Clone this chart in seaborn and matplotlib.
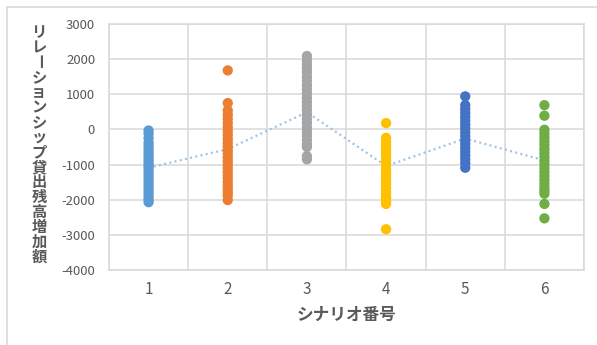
import numpy as np
import pandas as pd
import matplotlib
matplotlib.use("Agg")
import matplotlib.pyplot as plt
from matplotlib.patches import Rectangle
import seaborn as sns

# ---- data -------------------------------------------------------------
scenarios = ["1", "2", "3", "4", "5", "6"]

s1 = [-30, -120, -250, -380, -470, -560, -650, -740, -820, -900, -980, -1050,
      -1120, -1200, -1290, -1380, -1470, -1560, -1650, -1740, -1830, -1920,
      -2000, -2070]
s2 = [1680, 750, 540, 420, 300, 180, 60, -50, -160, -270, -380, -490, -600,
      -700, -800, -900, -1000, -1100, -1200, -1300, -1400, -1500, -1600,
      -1700, -1790, -1880, -2010]
s3 = [2090, 1960, 1850, 1740, 1620, 1500, 1380, 1260, 1140, 1020, 900, 780,
      660, 540, 420, 300, 180, 60, -60, -180, -300, -420, -500, -760, -850]
s4 = [180, -240, -350, -460, -570, -680, -790, -900, -1010, -1120, -1230,
      -1340, -1450, -1560, -1670, -1780, -1860, -1950, -2040, -2120, -2840]
s5 = [940, 690, 580, 470, 360, 250, 140, 30, -80, -190, -300, -410, -520,
      -630, -740, -850, -960, -1090]
s6 = [690, 390, -10, -120, -230, -340, -450, -560, -670, -780, -890, -1000,
      -1110, -1220, -1330, -1440, -1550, -1660, -1740, -1830, -2120, -2530]

# average per scenario (dotted line)
averages = [-1090, -560, 490, -1040, -260, -880]

y_ticks = [-4000, -3000, -2000, -1000, 0, 1000, 2000, 3000]

x_title = "シナリオ番号"
y_title = "リレーションシップ貸出残高増加額"

colors = ["#5B9BD5", "#ED7D31", "#A5A5A5", "#FFC000", "#4472C4", "#70AD47"]

# ---- long-form table --------------------------------------------------
series = [s1, s2, s3, s4, s5, s6]
df = pd.DataFrame({
    "scenario": np.concatenate([[sc] * len(v) for sc, v in zip(scenarios, series)]),
    "value": np.concatenate(series),
})

# ---- style ------------------------------------------------------------
sns.set_style("white")
plt.rcParams["font.family"] = ["Noto Sans CJK JP", "DejaVu Sans"]
plt.rcParams["axes.unicode_minus"] = False

text_gray = "#595959"
grid_gray = "#D9D9D9"

W, H = 597, 345
fig = plt.figure(figsize=(W / 100, H / 100), dpi=100)
ax = fig.add_axes([109 / W, 1 - 270 / H, (584 - 109) / W, (270 - 24) / H])

# chart-area frame (top and left edges visible)
fig.add_artist(Rectangle((7 / W, -0.1), 1.2, 1 - 7 / H + 0.1,
                         transform=fig.transFigure, fill=False,
                         edgecolor=grid_gray, linewidth=1.2))

sns.stripplot(data=df, x="scenario", y="value", hue="scenario",
              order=scenarios, hue_order=scenarios, palette=colors,
              jitter=False, size=7.4, linewidth=0, legend=False, ax=ax)
for coll in ax.collections:
    coll.set_zorder(3)

ax.plot(np.arange(len(scenarios)), averages, color="#9DC3E6",
        linewidth=1.6, linestyle=(0, (0.9, 1.5)), zorder=2)

ax.set_xlim(-0.5, len(scenarios) - 0.5)
ax.set_ylim(-4000, 3000)
ax.set_yticks(y_ticks)
ax.set_yticklabels([str(t) for t in y_ticks])
ax.set_xticks(np.arange(len(scenarios)))
ax.set_xticklabels(scenarios)
ax.set_xticks(np.arange(-0.5, len(scenarios)), minor=True)

ax.grid(True, axis="y", which="major", color=grid_gray, linewidth=1.1)
ax.grid(True, axis="x", which="minor", color=grid_gray, linewidth=1.1)
ax.grid(False, axis="x", which="major")
ax.set_axisbelow(True)

for sp in ax.spines.values():
    sp.set_visible(True)
    sp.set_color(grid_gray)
    sp.set_linewidth(1.1)

ax.tick_params(axis="both", which="both", length=0, colors=text_gray)
ax.tick_params(axis="y", pad=10, labelsize=9.5)
ax.tick_params(axis="x", pad=8, labelsize=11)
ax.set_xlabel("")
ax.set_ylabel("")

# axis titles
fig.text(347 / W, 1 - 315 / H, x_title, ha="center", va="center",
         fontsize=12, fontweight="bold", color=text_gray)

# vertical (upright, stacked) y-axis title
y0, step = 32, 15.0
for i, ch in enumerate(y_title):
    rot = -90 if ch == "ー" else 0
    fig.text(39 / W, 1 - (y0 + i * step) / H, ch, ha="center", va="center",
             fontsize=11, fontweight="bold", color=text_gray, rotation=rot)

fig.savefig("out.png", dpi=100)
